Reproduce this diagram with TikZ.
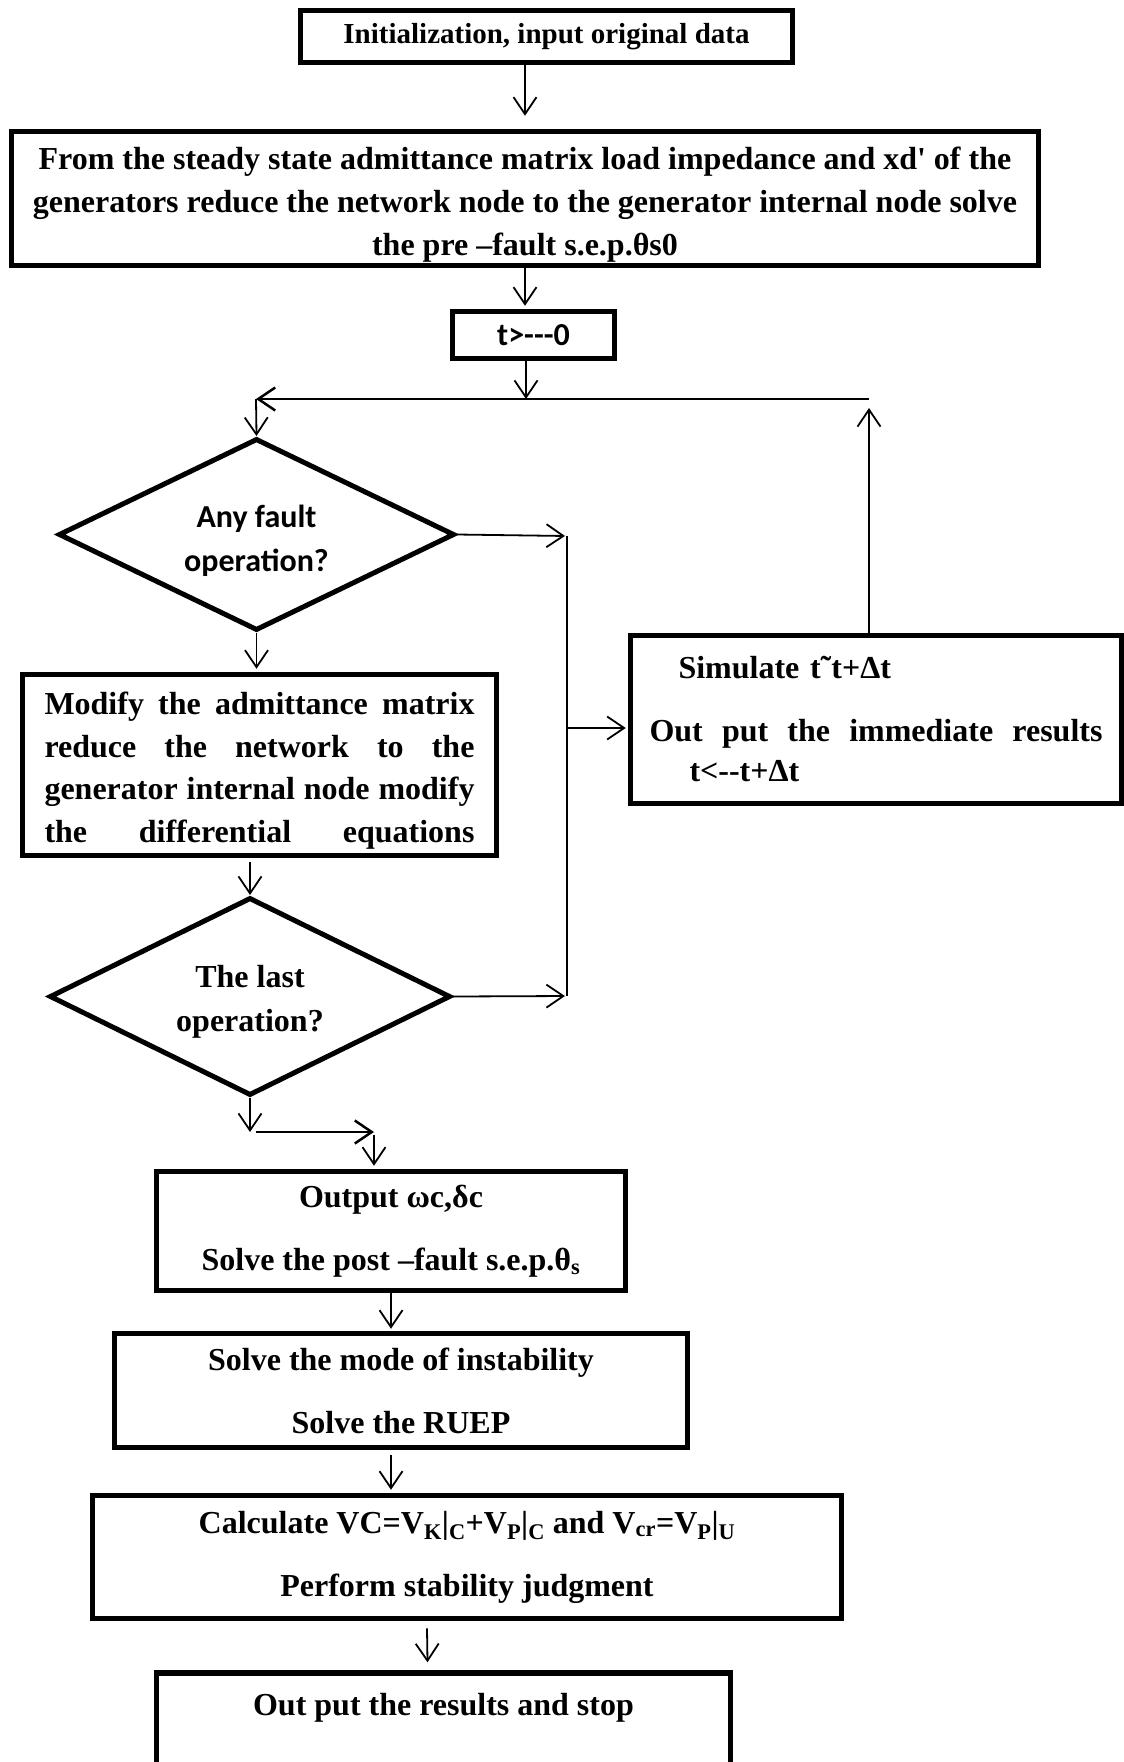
\documentclass[tikz,border=0pt]{standalone}
\usepackage{fontspec}
\setmainfont{Liberation Serif}
\newfontfamily\flowfont{Liberation Serif}
\newfontfamily\flowsans{Carlito}
\usetikzlibrary{shapes,arrows.meta}
\tikzstyle{block} = [draw, rectangle, line width=5.5pt, inner sep=0pt, align=center,
  font=\flowfont\bfseries\fontsize{32}{43}\selectfont]
\tikzstyle{decision} = [draw, diamond, aspect=2, line width=5pt, inner sep=0pt, align=center,
  font=\flowfont\bfseries\fontsize{32}{44}\selectfont]
\tikzstyle{link} = [-{Straight Barb[length=17pt,width=23pt]}, line width=1.8pt]
\tikzstyle{sansfont} = [font=\flowsans\bfseries\fontsize{32}{44}\selectfont]

\begin{document}
\begin{tikzpicture}[x=1pt,y=-1pt]
    \useasboundingbox (0,0) rectangle (1124,1762);

    \node [block, minimum width=492pt, minimum height=52pt, font=\flowfont\bfseries\fontsize{29}{43}\selectfont,
    name = init] at (546.5,36.5)
    {Initialization, input original data};
    \node [block, minimum width=1027pt, minimum height=134pt, name = net] at (525,198.5)
    {\rule{0pt}{34pt}From the steady state admittance matrix load impedance and xd\textquotesingle{} of the\\
     generators reduce the network node to the generator internal node solve\\
     the pre –fault s.e.p.θs0};
    \node [block, sansfont, minimum width=162pt, minimum height=47pt, name = tzero] at (533.5,335)
    {t>{-}{-}{-}0};

    \coordinate (loopL) at (256,399);
    \coordinate (loopR) at (869,399);
    \coordinate (join) at (526,399);

    \node [decision, sansfont, minimum width=396pt, minimum height=192pt, name = fault] at (256.5,534.5)
    {\rule{0pt}{36pt}Any fault\\operation?};
    \node [block, minimum width=474pt, minimum height=181pt, font=\flowfont\bfseries\fontsize{32}{42.5}\selectfont,
    name = modify] at (259.5,765)
    {\rule{0pt}{34pt}\makebox[430pt][s]{Modify the admittance matrix}\\
     \makebox[430pt][s]{reduce the network to the}\\
     \makebox[430pt][s]{generator internal node modify}\\
     \makebox[430pt][s]{the differential equations}};
    \node [decision, minimum width=401pt, minimum height=198pt, name = last] at (250,996.5)
    {\rule{0pt}{32pt}The last\\operation?};

    \node [block, minimum width=491pt, minimum height=168pt, text width=453pt, align=left,
    font=\flowfont\bfseries\fontsize{32}{40}\selectfont, name = sim] at (876,719.5)
    {\hspace*{29pt}Simulate t˜t+Δt\\[23pt]
     \makebox[453pt][s]{\spaceskip=0pt Out put the immediate results}\\
     \hspace*{40pt}t<{-}{-}t+Δt};

    \coordinate (busTop) at (567,536);
    \coordinate (busMid) at (567,728);
    \coordinate (busBot) at (567,996);
    \coordinate (elbow) at (250,1132);
    \coordinate (elbowR) at (374,1132);

    \node [block, minimum width=469pt, minimum height=119pt, name = outw] at (391,1231)
    {Output ωc,δc\\[20pt]Solve the post –fault s.e.p.θ\textsubscript{s}};
    \node [block, minimum width=573pt, minimum height=114pt, name = mode] at (401,1390.5)
    {Solve the mode of instability\\[20pt]Solve the RUEP};
    \node [block, minimum width=749pt, minimum height=123pt, name = calc] at (467,1557)
    {Calculate VC=V\textsubscript{K}|\textsubscript{C}+V\textsubscript{P}|\textsubscript{C}
     and V\textsubscript{cr}=V\textsubscript{P}|\textsubscript{U}\\[20pt]Perform stability judgment};
    \node [block, minimum width=574pt, minimum height=128pt, text height=22pt, text depth=65pt,
    name = stop] at (443.5,1737)
    {Out put the results and stop};

    % main column
    \draw [link, shorten >=13pt] (init.south -| net.north) -- (net.north);
    \draw [link, shorten >=3pt] (net.south) -- (net.south |- tzero.north);
    \draw [link] (tzero.south -| join) -- (join);
    \draw [link, line width=2.5pt] (loopR) -- (loopL);
    \draw [link] (loopL) -- (fault.north);
    \draw [link, shorten >=3pt] (fault.south) -- (fault.south |- modify.north);
    \draw [link, shorten <=4pt] (modify.south -| last.north) -- (last.north);

    % right branch
    \draw [link, shorten >=2pt] (fault.east) -- (busTop);
    \draw [link, shorten >=2pt] (last.east) -- (busBot);
    \draw [line width=1.8pt] (busTop) -- (busBot);
    \draw [link, shorten >=2pt] (busMid) -- (busMid -| sim.west);
    \draw [link, shorten >=9pt] (sim.north -| loopR) -- (loopR);

    % lower column
    \draw [link] (last.south) -- (elbow);
    \draw [link, line width=2.5pt, shorten <=6pt] (elbow) -- (elbowR);
    \draw [link, shorten <=3pt, shorten >=3pt] (elbowR) -- (elbowR |- outw.north);
    \draw [link, shorten >=2pt] (outw.south) -- (outw.south |- mode.north);
    \draw [link, shorten <=5pt, shorten >=3pt] (mode.south -| outw.south) -- (outw.south |- calc.north);
    \draw [link] ([xshift=-40pt, yshift=-7pt]calc.south) -- ([xshift=-16pt, yshift=8pt]stop.north);

\end{tikzpicture}
\end{document}
